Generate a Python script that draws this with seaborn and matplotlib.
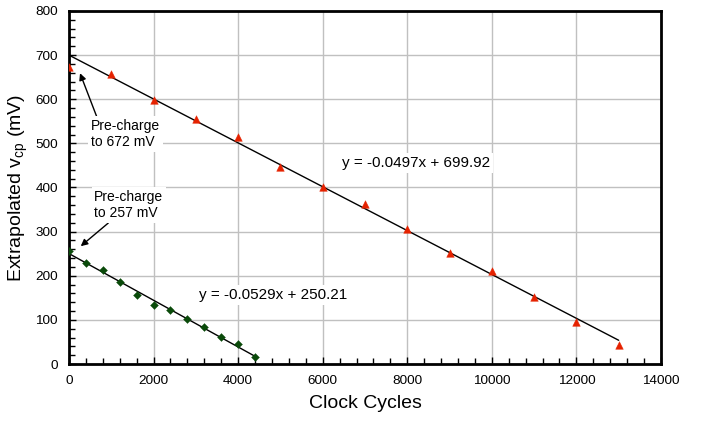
import matplotlib
matplotlib.use("Agg")
import matplotlib.pyplot as plt
from matplotlib.ticker import MultipleLocator
import numpy as np
import pandas as pd
import seaborn as sns

# Measured extrapolated v_cp for two pre-charge levels
cycles_672 = [0, 1000, 2000, 3000, 4000, 5000, 6000, 7000, 8000, 9000, 10000, 11000, 12000, 13000]
vcp_672 = [672, 657, 598, 556, 514, 446, 402, 363, 306, 251, 210, 152, 95, 42]

cycles_257 = [0, 400, 800, 1200, 1600, 2000, 2400, 2800, 3200, 3600, 4000, 4400]
vcp_257 = [257, 229, 213, 185, 156, 133, 123, 101, 84, 61, 45, 17]

# Linear trendline coefficients (slope, intercept)
fit_672 = (-0.0497, 699.92)
fit_257 = (-0.0529, 250.21)

sns.set_style("white")
plt.rcParams["font.family"] = ["Liberation Sans", "DejaVu Sans"]
plt.rcParams["mathtext.fontset"] = "custom"
plt.rcParams["mathtext.rm"] = "Liberation Sans"
plt.rcParams["text.color"] = "black"
plt.rcParams["axes.labelcolor"] = "black"

df_672 = pd.DataFrame({"cycles": cycles_672, "vcp": vcp_672})
df_257 = pd.DataFrame({"cycles": cycles_257, "vcp": vcp_257})


def trend(df, coef):
    x = np.array([df["cycles"].min(), df["cycles"].max()], dtype=float)
    return pd.DataFrame({"cycles": x, "vcp": coef[0] * x + coef[1]})


fig = plt.figure(figsize=(7.13, 4.22), dpi=100)
ax = fig.add_axes([0.0968, 0.1374, 0.8302, 0.8366])

ax.set_axisbelow(True)
ax.grid(True, which="major", color="#c0c0c0", linewidth=1.0)

sns.lineplot(data=trend(df_672, fit_672), x="cycles", y="vcp", color="black",
             linewidth=1.0, ax=ax, zorder=2)
sns.lineplot(data=trend(df_257, fit_257), x="cycles", y="vcp", color="black",
             linewidth=1.0, ax=ax, zorder=2)
sns.scatterplot(data=df_672, x="cycles", y="vcp", marker="^", s=30,
                color="#e52200", edgecolor="#e52200", linewidth=0.3, ax=ax, zorder=3)
sns.scatterplot(data=df_257, x="cycles", y="vcp", marker="D", s=16,
                color="#0a4a0a", edgecolor="#0a4a0a", linewidth=0.3, ax=ax, zorder=3)

ax.set_xlim(0, 14000)
ax.set_ylim(0, 800)
ax.xaxis.set_major_locator(MultipleLocator(2000))
ax.xaxis.set_minor_locator(MultipleLocator(400))
ax.yaxis.set_major_locator(MultipleLocator(100))
ax.yaxis.set_minor_locator(MultipleLocator(20))
ax.tick_params(which="both", direction="in", color="black", labelsize=9.7,
               labelcolor="black", pad=8, bottom=True, left=True,
               top=False, right=False)
ax.tick_params(which="major", length=5, width=1)
ax.tick_params(which="minor", length=4, width=1)

for s in ax.spines.values():
    s.set_visible(True)
    s.set_color("black")
    s.set_linewidth(2.0)

ax.set_xlabel("Clock Cycles", fontsize=14, labelpad=6)
ax.set_ylabel(r"Extrapolated v$_{\mathregular{cp}}$ (mV)", fontsize=14, labelpad=4)

box = dict(facecolor="white", edgecolor="none", pad=2)
ax.annotate("Pre-charge\nto 672 mV", xy=(260, 659), xytext=(513, 521),
            fontsize=10, ha="left", va="center", bbox=box,
            arrowprops=dict(arrowstyle="-|>", color="black", lw=1,
                            shrinkA=0, shrinkB=0, mutation_scale=10,
                            relpos=(0.1, 1.0)))
ax.annotate("Pre-charge\nto 257 mV", xy=(277, 267), xytext=(598, 360),
            fontsize=10, ha="left", va="center", bbox=box,
            arrowprops=dict(arrowstyle="-|>", color="black", lw=1,
                            shrinkA=0, shrinkB=0, mutation_scale=10,
                            relpos=(0.25, 0.0)))

ax.text(6448, 455, f"y = {fit_672[0]:.4f}x + {fit_672[1]:.2f}", fontsize=11,
        ha="left", va="center", bbox=box)
ax.text(3081, 156, f"y = {fit_257[0]:.4f}x + {fit_257[1]:.2f}", fontsize=11,
        ha="left", va="center", bbox=box)

fig.savefig("out.png", dpi=100)
